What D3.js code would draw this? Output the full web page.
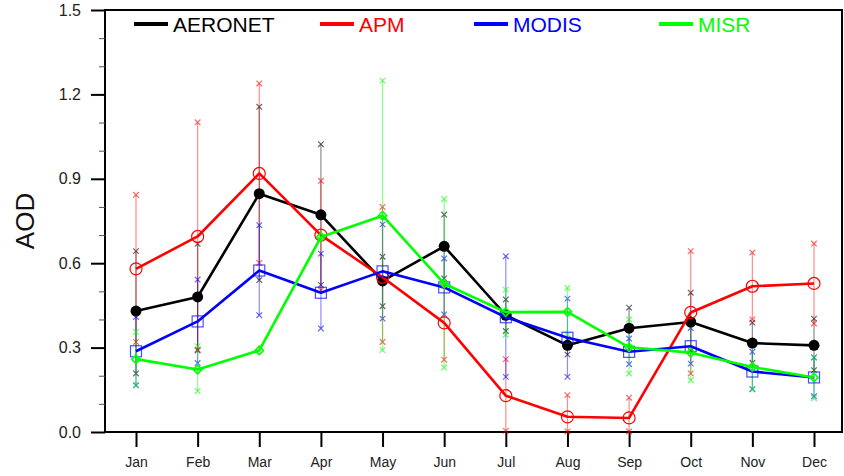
<!DOCTYPE html>
<html>
<head>
<meta charset="utf-8">
<script src="https://cdn.jsdelivr.net/npm/d3@7"></script>
<style>
  body { margin: 0; background: #fff; }
  svg { display: block; font-family: "Liberation Sans", Arial, Helvetica, sans-serif; }
</style>
</head>
<body>
<div class="chart"></div>
<script>
// monthly mean AOD and the min / max range of each source
const months = ["Jan", "Feb", "Mar", "Apr", "May", "Jun", "Jul", "Aug", "Sep", "Oct", "Nov", "Dec"];
const seriesNames = ["AERONET", "APM", "MODIS", "MISR"];

const aeronet   = [0.430, 0.480, 0.847, 0.772, 0.537, 0.660, 0.415, 0.308, 0.369, 0.391, 0.316, 0.308];
const aeronetLo = [0.208, 0.290, 0.540, 0.523, 0.447, 0.546, 0.359, 0.275, 0.297, 0.288, 0.246, 0.220];
const aeronetHi = [0.643, 0.669, 1.156, 1.023, 0.623, 0.773, 0.471, 0.330, 0.442, 0.495, 0.389, 0.403];

const apm   = [0.580, 0.695, 0.919, 0.700, 0.550, 0.388, 0.129, 0.054, 0.050, 0.425, 0.518, 0.528];
const apmLo = [0.320, 0.293, 0.601, 0.504, 0.320, 0.257, 0.004, 0.002, 0.002, 0.208, 0.400, 0.386];
const apmHi = [0.843, 1.101, 1.239, 0.893, 0.800, 0.520, 0.259, 0.131, 0.122, 0.643, 0.638, 0.670];

const modis   = [0.287, 0.393, 0.574, 0.495, 0.571, 0.514, 0.408, 0.335, 0.285, 0.305, 0.215, 0.194];
const modisLo = [0.166, 0.245, 0.415, 0.368, 0.403, 0.418, 0.196, 0.196, 0.241, 0.243, 0.152, 0.127];
const modisHi = [0.409, 0.542, 0.735, 0.634, 0.738, 0.617, 0.625, 0.474, 0.332, 0.370, 0.285, 0.265];

const misr   = [0.259, 0.222, 0.290, 0.693, 0.769, 0.527, 0.426, 0.427, 0.301, 0.282, 0.231, 0.194];
const misrLo = [0.166, 0.146, null, null, 0.291, 0.229, 0.346, 0.346, 0.208, 0.184, 0.152, 0.120];
const misrHi = [0.356, 0.305, null, null, 1.249, 0.828, 0.506, 0.512, 0.400, 0.386, 0.318, 0.265];

const yMajor = [0.0, 0.3, 0.6, 0.9, 1.2, 1.5];
const yMinor = [0.1, 0.2, 0.4, 0.5, 0.7, 0.8, 1.0, 1.1, 1.3, 1.4];

const colors = ["#000000", "#ff0000", "#0000ff", "#00ff00"];
const markers = ["dot", "circle", "square", "diamond"];
const legendX = [134, 320, 474, 659];

const series = [
	{name: seriesNames[0], mean: aeronet, lo: aeronetLo, hi: aeronetHi},
	{name: seriesNames[1], mean: apm, lo: apmLo, hi: apmHi},
	{name: seriesNames[2], mean: modis, lo: modisLo, hi: modisHi},
	{name: seriesNames[3], mean: misr, lo: misrLo, hi: misrHi}
];

const W = 844, H = 476;
const frame = {left: 105, right: 842, top: 10, bottom: 432};

const svg = d3.select('.chart').append('svg')
	.attr('width', W)
	.attr('height', H);

const xScale = d3.scaleLinear()
	.domain([1, 12])
	.range([136, 814]);

const yScale = d3.scaleLinear()
	.domain([0, 1.5])
	.range([frame.bottom, frame.top]);

// frame
svg.append('rect')
	.attr('x', frame.left)
	.attr('y', frame.top)
	.attr('width', frame.right - frame.left)
	.attr('height', frame.bottom - frame.top)
	.attr('fill', 'none')
	.attr('stroke', '#000')
	.attr('stroke-width', 2);

// y axis
const yAxis = d3.axisLeft(yScale)
	.tickValues(yMajor)
	.tickFormat(d3.format('.1f'))
	.tickSize(14)
	.tickPadding(10);

svg.append('g')
	.attr('class', 'axis y-axis')
	.attr('transform', `translate(${frame.left},0)`)
	.call(yAxis)
	.call(g => g.select('.domain').remove())
	.call(g => g.selectAll('line').attr('stroke-width', 2))
	.call(g => g.selectAll('text').attr('font-size', 16).attr('font-family', null).attr('fill', '#222'));

svg.append('g')
	.attr('class', 'axis y-minor')
	.attr('transform', `translate(${frame.left},0)`)
	.call(d3.axisLeft(yScale).tickValues(yMinor).tickSize(6).tickFormat(''))
	.call(g => g.select('.domain').remove())
	.call(g => g.selectAll('line').attr('stroke', '#555').attr('stroke-width', 1));

// x axis
const xAxis = d3.axisBottom(xScale)
	.tickValues(d3.range(1, 13))
	.tickFormat(d => months[d - 1])
	.tickSize(15)
	.tickPadding(10);

svg.append('g')
	.attr('class', 'axis x-axis')
	.attr('transform', `translate(0,${frame.bottom})`)
	.call(xAxis)
	.call(g => g.select('.domain').remove())
	.call(g => g.selectAll('line').attr('stroke-width', 2))
	.call(g => g.selectAll('text').attr('font-size', 14).attr('font-family', null).attr('fill', '#222'));

svg.append('text')
	.attr('transform', `translate(34,${(frame.top + frame.bottom) / 2}) rotate(-90)`)
	.attr('text-anchor', 'middle')
	.attr('font-size', 26)
	.attr('fill', '#111')
	.text('AOD');

// error bars: thin line between min and max with x marks at the ends
const cross = 2.8;
series.forEach((s, i) => {
	const g = svg.append('g').attr('class', 'err');
	const rows = months.map((m, j) => ({x: j + 1, lo: s.lo[j], hi: s.hi[j]}))
		.filter(d => d.lo !== null && d.hi !== null);

	g.selectAll('line.bar')
		.data(rows)
		.enter()
		.append('line')
		.attr('class', 'bar')
		.attr('x1', d => xScale(d.x))
		.attr('x2', d => xScale(d.x))
		.attr('y1', d => yScale(d.lo))
		.attr('y2', d => yScale(d.hi))
		.attr('stroke', colors[i])
		.attr('stroke-opacity', 0.45)
		.attr('stroke-width', 1.2);

	const ends = rows.flatMap(d => [{x: d.x, v: d.lo}, {x: d.x, v: d.hi}]);
	g.selectAll('path.xmark')
		.data(ends)
		.enter()
		.append('path')
		.attr('class', 'xmark')
		.attr('d', d => {
			const cx = xScale(d.x), cy = yScale(d.v);
			return `M${cx - cross},${cy - cross}L${cx + cross},${cy + cross}M${cx - cross},${cy + cross}L${cx + cross},${cy - cross}`;
		})
		.attr('stroke', colors[i])
		.attr('stroke-opacity', 0.6)
		.attr('stroke-width', 1.2)
		.attr('fill', 'none');
});

// mean lines and markers
const line = d3.line()
	.x((d, j) => xScale(j + 1))
	.y(d => yScale(d));

series.forEach((s, i) => {
	const g = svg.append('g').attr('class', 'series');
	g.append('path')
		.datum(s.mean)
		.attr('d', line)
		.attr('fill', 'none')
		.attr('stroke', colors[i])
		.attr('stroke-width', 2.6)
		.attr('stroke-linejoin', 'round');

	const pts = g.selectAll('.pt')
		.data(s.mean)
		.enter()
		.append('g')
		.attr('class', 'pt')
		.attr('transform', (d, j) => `translate(${xScale(j + 1)},${yScale(d)})`);

	if (markers[i] === 'dot') {
		pts.append('circle').attr('r', 5.5).attr('fill', colors[i]);
	} else if (markers[i] === 'circle') {
		pts.append('circle').attr('r', 6).attr('fill', 'none')
			.attr('stroke', colors[i]).attr('stroke-width', 1.2);
	} else if (markers[i] === 'square') {
		pts.append('rect').attr('x', -5.5).attr('y', -5.5).attr('width', 11).attr('height', 11)
			.attr('fill', 'none').attr('stroke', colors[i]).attr('stroke-opacity', 0.7).attr('stroke-width', 1.2);
	} else {
		pts.append('path').attr('d', 'M0,-4.5L4.5,0L0,4.5L-4.5,0Z')
			.attr('fill', 'none').attr('stroke', colors[i]).attr('stroke-width', 1.2);
		pts.append('circle').attr('r', 3).attr('fill', 'none')
			.attr('stroke', colors[i]).attr('stroke-width', 1);
	}
});

// legend
const legend = svg.append('g').attr('class', 'legend');
seriesNames.forEach((name, i) => {
	legend.append('line')
		.attr('x1', legendX[i])
		.attr('x2', legendX[i] + 34)
		.attr('y1', 24)
		.attr('y2', 24)
		.attr('stroke', colors[i])
		.attr('stroke-width', 4);
	legend.append('text')
		.attr('x', legendX[i] + 39)
		.attr('y', 31.5)
		.attr('font-size', 21)
		.attr('fill', colors[i])
		.text(name);
});
</script>
</body>
</html>
